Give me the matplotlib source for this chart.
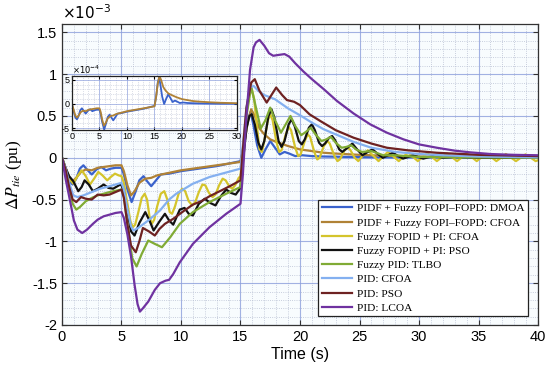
import numpy as np
import matplotlib
matplotlib.use("Agg")
import matplotlib.pyplot as plt
from matplotlib.ticker import MultipleLocator

plt.rcParams['axes.unicode_minus'] = False
plt.rcParams['mathtext.fontset'] = 'stix'

# values in units of 1e-3 pu
t_dmoa = [0, 0.3, 0.6, 0.9, 1.2, 1.5, 1.8, 2.1, 2.5, 2.9, 3.3, 3.7, 4.1, 4.5, 5.0,
          5.2, 5.5, 5.85, 6.2, 6.5, 6.85, 7.15, 7.5, 7.9, 8.3, 9, 10, 11, 12, 13, 14, 15.0,
          15.3, 15.6, 15.85, 16.1, 16.4, 16.75, 17.1, 17.5, 17.9, 18.3, 18.7, 19.1, 19.6,
          20.2, 21, 22, 24, 27, 30, 35, 40]
v_dmoa = [0, -0.15, -0.28, -0.32, -0.25, -0.13, -0.09, -0.14, -0.2, -0.14, -0.11, -0.15, -0.13, -0.12, -0.12,
          -0.2, -0.38, -0.53, -0.4, -0.27, -0.22, -0.28, -0.34, -0.27, -0.2, -0.19, -0.16, -0.14, -0.12, -0.1, -0.07, -0.04,
          0.15, 0.45, 0.55, 0.38, 0.15, 0.0, 0.1, 0.2, 0.12, 0.04, 0.07, 0.05, 0.02,
          0.03, 0.02, 0.015, 0.01, 0.005, 0.005, 0.0, 0.0]

t_cfoa = [0, 0.3, 0.6, 0.9, 1.2, 1.6, 2.0, 2.5, 3.0, 3.5, 4.0, 4.5, 5.0,
          5.2, 5.5, 5.8, 6.1, 6.5, 7.0, 7.5, 8.0, 9, 10, 11, 12, 13, 14, 15.0,
          15.3, 15.6, 15.9, 16.2, 16.6, 17.0, 17.5, 18, 19, 20, 21, 22, 23, 25, 27, 30, 35, 40]
v_cfoa = [0, -0.12, -0.24, -0.28, -0.24, -0.17, -0.14, -0.15, -0.12, -0.11, -0.1, -0.09, -0.09,
          -0.16, -0.33, -0.45, -0.4, -0.3, -0.25, -0.24, -0.21, -0.18, -0.15, -0.13, -0.11, -0.09, -0.07, -0.05,
          0.15, 0.42, 0.58, 0.5, 0.35, 0.28, 0.22, 0.19, 0.14, 0.1, 0.08, 0.06, 0.05, 0.035, 0.025, 0.015, 0.01, 0.005]

t_fz_cfoa = [0, 0.3, 0.6, 0.95, 1.3, 1.65, 2.0, 2.35, 2.7, 3.05, 3.4, 3.8, 4.1, 4.45, 4.75, 5.0,
             5.2, 5.5, 5.75, 5.95, 6.15, 6.4, 6.7, 6.95, 7.15, 7.35, 7.55, 7.75, 8.0, 8.3, 8.6, 8.85,
             9.05, 9.25, 9.5, 9.8, 10.1, 10.35, 10.65, 10.95, 11.2, 11.5, 11.8, 12.05, 12.35, 12.65,
             12.9, 13.2, 13.5, 13.75, 14.05, 14.3, 14.55, 14.85, 15.0,
             15.2, 15.5, 15.75, 15.95, 16.15, 16.4, 16.6, 16.8, 17.0, 17.3, 17.5, 17.7, 18.0, 18.25,
             18.45, 18.8, 19.05, 19.25, 19.6, 19.85, 20.05, 20.4, 20.65, 20.85, 21.2, 21.45, 21.65,
             22.0, 22.3, 22.5, 22.9, 23.15, 23.35, 23.75, 24.0, 24.2, 24.6, 24.9,
             25.3, 25.7, 26.15, 26.6,
             27.0, 27.4, 27.85, 28.3, 28.7, 29.1, 29.5, 29.9, 30.3, 30.7, 31.1, 31.5, 31.9, 32.35,
             32.8, 33.2, 33.6, 34.0, 34.45, 34.85, 35.25, 35.65, 36.1, 36.5, 36.9, 37.3, 37.75,
             38.15, 38.55, 38.95, 39.4, 39.8, 40]
v_fz_cfoa = [0, -0.12, -0.25, -0.31, -0.22, -0.15, -0.22, -0.32, -0.25, -0.17, -0.21, -0.27, -0.23, -0.19, -0.21, -0.22,
             -0.3, -0.55, -0.76, -0.83, -0.8, -0.66, -0.48, -0.43, -0.5, -0.7, -0.79, -0.74, -0.58, -0.43, -0.4, -0.5,
             -0.65, -0.67, -0.58, -0.43, -0.37, -0.4, -0.52, -0.57, -0.53, -0.41, -0.32, -0.33, -0.42, -0.47,
             -0.44, -0.33, -0.25, -0.27, -0.34, -0.37, -0.33, -0.24, -0.22,
             0.1, 0.55, 0.78, 0.82, 0.7, 0.35, 0.1, 0.07, 0.2, 0.45, 0.52, 0.45, 0.2, 0.07,
             0.09, 0.28, 0.37, 0.33, 0.12, 0.02, 0.04, 0.2, 0.28, 0.25, 0.07, -0.02, 0.0,
             0.14, 0.2, 0.17, 0.02, -0.04, -0.02, 0.09, 0.12, 0.1, 0.0, -0.04,
             0.03, 0.09, 0.025, -0.04,
             0.02, 0.07, 0.015, -0.04, 0.015, 0.06, 0.01, -0.04, 0.01, 0.055, 0.01, -0.04, 0.005, 0.05,
             0.005, -0.04, 0.005, 0.05, 0.005, -0.04, 0.005, 0.045, 0.005, -0.04, 0.0, 0.045, 0.0,
             -0.04, 0.0, 0.04, 0.0, -0.04, -0.03]

t_fz_pso = [0, 0.3, 0.6, 0.95, 1.37, 1.65, 1.9, 2.25, 2.6, 3.0, 3.5, 3.9, 4.3, 4.9, 5.0,
            5.2, 5.5, 5.8, 6.1, 6.5, 7.0, 7.35, 7.7, 8.2, 8.65, 9.0, 9.35, 9.9, 10.3, 10.65, 11.0,
            11.5, 12.0, 12.45, 12.9, 13.35, 13.8, 14.2, 14.6, 14.9, 15.0,
            15.2, 15.5, 15.75, 15.95, 16.2, 16.5, 16.75, 17.0, 17.35, 17.6, 17.85, 18.2, 18.45, 18.7,
            19.05, 19.3, 19.55, 19.9, 20.15, 20.4, 20.75, 21.0, 21.25, 21.6, 21.85, 22.1, 22.45, 22.7,
            22.95, 23.3, 23.55, 24.0, 24.4, 24.8, 25.25, 25.7, 26.1, 26.5,
            26.95, 27.4, 27.8, 28.2, 28.65, 29.1, 29.5, 30.35, 31.2, 32.0, 33, 35, 40]
v_fz_pso = [0, -0.12, -0.22, -0.28, -0.4, -0.35, -0.27, -0.32, -0.4, -0.37, -0.32, -0.36, -0.37, -0.32, -0.33,
            -0.4, -0.65, -0.88, -0.93, -0.78, -0.65, -0.75, -0.87, -0.76, -0.67, -0.75, -0.8, -0.62, -0.6, -0.67, -0.69,
            -0.55, -0.49, -0.54, -0.57, -0.46, -0.38, -0.42, -0.44, -0.38, -0.35,
            -0.05, 0.35, 0.5, 0.52, 0.4, 0.18, 0.1, 0.2, 0.5, 0.58, 0.48, 0.2, 0.13, 0.2,
            0.4, 0.46, 0.38, 0.2, 0.16, 0.22, 0.36, 0.4, 0.33, 0.18, 0.14, 0.17, 0.24, 0.26,
            0.21, 0.1, 0.07, 0.12, 0.17, 0.1, 0.03, 0.07, 0.1, 0.05,
            0.0, 0.03, 0.06, 0.025, -0.01, 0.01, 0.03, -0.01, 0.02, 0.0, 0.01, 0.0, 0.0]

t_tlbo = [0, 0.3, 0.6, 0.9, 1.2, 1.5, 2.0, 2.5, 3.0, 3.5, 4.0, 5.0,
          5.2, 5.5, 5.9, 6.27, 6.7, 7.25, 7.8, 8.4, 9.1, 9.9, 11.0, 12.4, 13.8, 15.0,
          15.2, 15.5, 15.9, 16.3, 16.7, 17.1, 17.5, 17.9, 18.4, 18.8, 19.2, 19.6, 20.1, 20.5, 20.9,
          21.3, 21.8, 22.2, 22.6, 23.0, 23.5, 23.9, 24.3, 24.7, 25.2, 26, 27, 28, 30, 33, 40]
v_tlbo = [0, -0.15, -0.38, -0.55, -0.62, -0.59, -0.52, -0.48, -0.45, -0.43, -0.41, -0.38,
          -0.45, -0.8, -1.2, -1.3, -1.15, -0.99, -1.03, -1.07, -0.95, -0.79, -0.65, -0.53, -0.43, -0.35,
          0.0, 0.5, 0.85, 0.6, 0.35, 0.45, 0.6, 0.45, 0.3, 0.4, 0.5, 0.38, 0.27, 0.31, 0.36,
          0.28, 0.2, 0.22, 0.25, 0.18, 0.12, 0.13, 0.15, 0.1, 0.07, 0.08, 0.03, 0.03, 0.01, 0.005, 0.0]

t_pid_cfoa = [0, 0.3, 0.6, 0.95, 1.3, 1.8, 2.5, 3.2, 4.0, 5.0,
              5.2, 5.5, 5.8, 6.0, 6.4, 7.25, 8.24, 9.0, 9.6, 10.3, 11.0, 12.4, 13.7, 15.0,
              15.2, 15.5, 15.8, 16.1, 16.5, 17.0, 17.9, 19, 20.1, 21, 22, 23, 24.5, 26, 28, 30, 32, 35, 40]
v_pid_cfoa = [0, -0.12, -0.3, -0.45, -0.47, -0.45, -0.41, -0.37, -0.34, -0.3,
              -0.38, -0.62, -0.82, -0.87, -0.84, -0.75, -0.63, -0.5, -0.43, -0.37, -0.31, -0.23, -0.18, -0.13,
              0.15, 0.6, 0.84, 0.86, 0.8, 0.75, 0.7, 0.59, 0.5, 0.42, 0.34, 0.28, 0.19, 0.12, 0.07, 0.045, 0.03, 0.015, 0.005]

t_pid_pso = [0, 0.3, 0.6, 0.9, 1.2, 1.6, 2.0, 2.5, 3.0, 3.5, 4.0, 4.5, 5.0,
             5.2, 5.5, 5.8, 6.2, 6.5, 6.8, 7.3, 7.8, 8.2, 8.65, 9.35, 10.2, 11.0, 11.7, 12.4, 13.4, 14.1, 15.0,
             15.2, 15.5, 15.9, 16.2, 16.6, 17.2, 17.6, 18.0, 18.5, 18.9, 19.5, 20.0, 20.8, 21.7,
             23, 24.5, 26, 27.3, 29, 31.5, 35, 40]
v_pid_pso = [0, -0.14, -0.35, -0.5, -0.53, -0.47, -0.49, -0.5, -0.44, -0.45, -0.44, -0.41, -0.38,
             -0.48, -0.8, -1.05, -1.13, -1.0, -0.84, -0.88, -0.93, -0.85, -0.79, -0.73, -0.64, -0.56, -0.52, -0.46, -0.39, -0.34, -0.27,
             0.1, 0.6, 0.9, 0.94, 0.8, 0.66, 0.75, 0.84, 0.75, 0.69, 0.67, 0.63, 0.52, 0.44,
             0.33, 0.24, 0.17, 0.12, 0.09, 0.06, 0.035, 0.02]

t_lcoa = [0, 0.3, 0.67, 1.0, 1.3, 1.7, 2.1, 2.6, 3.0, 3.5, 4.0, 4.5, 5.0,
          5.2, 5.5, 5.8, 6.1, 6.35, 6.55, 6.8, 7.25, 7.8, 8.24, 8.7, 9.0, 9.35, 9.9, 10.5, 11.0, 12.4, 13.8, 15.0,
          15.2, 15.5, 15.8, 16.1, 16.3, 16.6, 17.0, 17.4, 17.75, 18.2, 18.7, 19.1, 19.6, 20.3, 21, 22,
          23.1, 24.5, 25.9, 27.3, 28.7, 30, 31.5, 33, 34.3, 36, 38, 40]
v_lcoa = [0, -0.25, -0.51, -0.75, -0.86, -0.9, -0.86, -0.79, -0.74, -0.7, -0.68, -0.66, -0.65,
          -0.72, -0.92, -1.18, -1.52, -1.75, -1.84, -1.8, -1.72, -1.58, -1.5, -1.47, -1.46, -1.39, -1.25, -1.13, -1.03, -0.83, -0.67, -0.55,
          -0.2, 0.5, 1.05, 1.32, 1.38, 1.41, 1.34, 1.25, 1.22, 1.23, 1.24, 1.21, 1.13, 1.03, 0.94, 0.82,
          0.68, 0.53, 0.4, 0.3, 0.22, 0.16, 0.12, 0.085, 0.065, 0.045, 0.035, 0.03]

labels = ['PIDF + Fuzzy FOPI\u2013FOPD: DMOA', 'PIDF + Fuzzy FOPI\u2013FOPD: CFOA',
          'Fuzzy FOPID + PI: CFOA', 'Fuzzy FOPID + PI: PSO', 'Fuzzy PID: TLBO',
          'PID: CFOA', 'PID: PSO', 'PID: LCOA']
colors = ['#3a62cc', '#b08236', '#d4c42c', '#111111', '#80ab35', '#84b0f0', '#6e2222', '#6f32a0']
series = [(t_dmoa, v_dmoa), (t_cfoa, v_cfoa), (t_fz_cfoa, v_fz_cfoa), (t_fz_pso, v_fz_pso),
          (t_tlbo, v_tlbo), (t_pid_cfoa, v_pid_cfoa), (t_pid_pso, v_pid_pso), (t_lcoa, v_lcoa)]

fig = plt.figure(figsize=(5.5, 3.79), dpi=100)
ax = fig.add_axes([0.1127, 0.1425, 0.8655, 0.7942])
ax.set_facecolor('#f8fcfe')

for (t, v), c, lab in zip(series, colors, labels):
    ax.plot(t, v, color=c, lw=1.6, label=lab)

ax.set_xlim(0, 40)
ax.set_ylim(-2, 1.6)
ax.xaxis.set_major_locator(MultipleLocator(5))
ax.xaxis.set_minor_locator(MultipleLocator(1))
ax.yaxis.set_major_locator(MultipleLocator(0.5))
ax.yaxis.set_minor_locator(MultipleLocator(0.1))
ax.set_yticks([-2, -1.5, -1, -0.5, 0, 0.5, 1, 1.5])
ax.set_yticklabels(['-2', '-1.5', '-1', '-0.5', '0', '0.5', '1', '1.5'])
ax.grid(which='major', color='#8c9fdc', lw=0.8, alpha=0.8)
ax.grid(which='minor', color='#a8b0c8', lw=0.6, ls=':', alpha=0.8)
ax.set_axisbelow(True)
ax.tick_params(which='both', direction='in', top=True, right=True, labelsize=10.5, color='#333333')
ax.tick_params(which='minor', length=0)
for lbl in ax.get_xticklabels() + ax.get_yticklabels():
    lbl.set_fontfamily('Liberation Sans')
for s in ax.spines.values():
    s.set_color('#333333')
    s.set_linewidth(0.9)

ax.set_xlabel('Time (s)', fontsize=11.5, family='Liberation Sans', labelpad=2)
ax.set_ylabel(r'$\Delta P_{tie}$ (pu)', fontsize=12.5, family='Liberation Serif', labelpad=6)
ax.text(0.0, 1.008, r'$\times 10^{-3}$', transform=ax.transAxes, fontsize=11,
        family='Liberation Sans', ha='left', va='bottom', math_fontfamily='dejavusans')

leg = ax.legend(loc='upper left', bbox_to_anchor=(0.538, 0.415), borderaxespad=0,
                prop={'family': 'Liberation Serif', 'size': 8.2}, handlelength=2.7,
                labelspacing=0.37, handletextpad=0.4, borderpad=0.3, fancybox=False,
                framealpha=1, edgecolor='#222222')
leg.get_frame().set_linewidth(0.9)

# inset: the two PIDF + Fuzzy FOPI-FOPD responses, in units of 1e-4
axi = fig.add_axes([0.1309, 0.657, 0.3, 0.1425])
axi.set_facecolor('white')
for (t, v), c in zip(series[:2], colors[:2]):
    axi.plot(t, np.array(v) * 10, color=c, lw=1.3)
axi.set_xlim(0, 30)
axi.set_ylim(-5.4, 5.8)
axi.xaxis.set_major_locator(MultipleLocator(5))
axi.xaxis.set_minor_locator(MultipleLocator(1))
axi.set_yticks([-5, 0, 5])
axi.set_yticklabels(['-5', '0', '5'])
axi.yaxis.set_minor_locator(MultipleLocator(1))
axi.grid(which='major', color='#8c9fdc', lw=0.6, alpha=0.8)
axi.grid(which='minor', color='#a8b0c8', lw=0.5, ls=':', alpha=0.8)
axi.tick_params(which='both', direction='in', top=True, right=True, labelsize=6.5, pad=1.5, length=2)
axi.tick_params(which='minor', length=0)
for lbl in axi.get_xticklabels() + axi.get_yticklabels():
    lbl.set_fontfamily('Liberation Sans')
for s in axi.spines.values():
    s.set_color('#222222')
    s.set_linewidth(0.9)
axi.text(0.0, 1.0, r'$\times 10^{-4}$', transform=axi.transAxes, fontsize=6,
         family='Liberation Sans', ha='left', va='bottom', math_fontfamily='dejavusans')

fig.savefig('out.png', dpi=100)
